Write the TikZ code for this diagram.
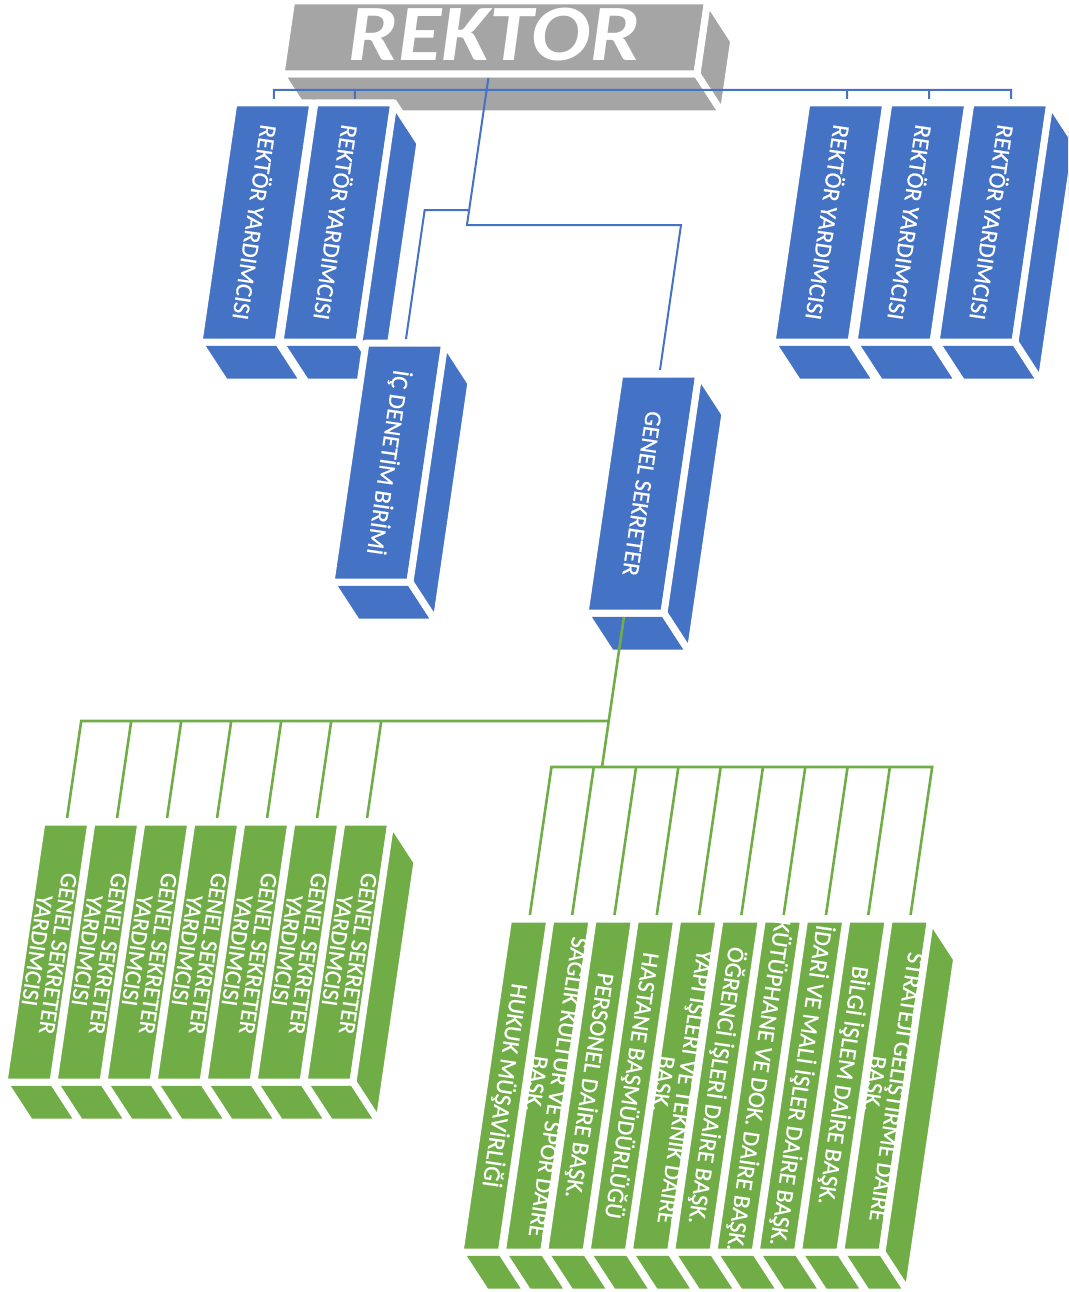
\documentclass[tikz,border=0pt]{standalone}
\usepackage{fontspec}
\setmainfont{Carlito}
\newfontfamily\kutufont{Carlito}[FakeBold=0.6]
\usepackage{tikz}
\usetikzlibrary{calc}
\definecolor{mavi}{HTML}{4472C4}
\definecolor{yesil}{HTML}{70AD47}
\definecolor{gri}{HTML}{A5A5A5}
\newcommand{\egim}{0.146}
\newcommand{\kutu}[6]{
    \coordinate (#1-bl) at ({#2}, {#3});
    \coordinate (#1-br) at ($(#1-bl) + ({#4}, 0)$);
    \coordinate (#1-tl) at ($(#1-bl) + ({\egim*#5}, {-#5})$);
    \coordinate (#1-tr) at ($(#1-tl) + ({#4}, 0)$);
    \filldraw[yuz, fill=#6] (#1-bl) -- (#1-br) -- ($(#1-br) + (26, 40)$) -- ($(#1-bl) + (26, 40)$) -- cycle;
    \filldraw[yuz, fill=#6] (#1-bl) -- (#1-br) -- (#1-tr) -- (#1-tl) -- cycle;
    \coordinate (#1-c) at ($(#1-bl)!0.5!(#1-tr)$);
    \coordinate (#1-t) at ($(#1-tl)!0.5!(#1-tr) + (0.6, -4)$);
    \coordinate (#1-b) at ($(#1-bl)!0.5!(#1-br) + (-0.6, 4)$);
}
\newcommand{\yan}[2]{
    \filldraw[yuz, fill=#2] (#1-br) -- (#1-tr) -- ($(#1-tr) + (26, 40)$) -- ($(#1-br) + (26, 40)$) -- cycle;
}
\newcommand{\yazi}[4]{
    \node[yazi, font=\kutufont\fontsize{#3}{#4}\selectfont] (#1-y) at (#1-c) {#2};
}
\tikzset{
    yuz/.style={draw=white, line width=7pt, line join=round},
    yazi/.style={text=white, rotate=-98.3, align=center, inner sep=0pt},
    mavicizgi/.style={draw=mavi, line width=2pt},
    yesilcizgi/.style={draw=yesil, line width=2.6pt}
}

\begin{document}
\begin{tikzpicture}[x=1pt, y=-1pt]
    \useasboundingbox (0, 0) rectangle (1068, 1292);
    \clip (0, 0) rectangle (1068, 1292);
    \kutu{rektor}{281}{74}{416}{73}{gri}
    \yan{rektor}{gri}
    \kutu{ry1}{199}{342}{79}{239}{mavi}
    \kutu{ry2}{280}{342}{79}{239}{mavi}
    \yan{ry2}{mavi}
    \kutu{ry3}{772}{342}{79}{239}{mavi}
    \kutu{ry4}{854}{342}{79}{239}{mavi}
    \kutu{ry5}{936}{342}{79}{239}{mavi}
    \yan{ry5}{mavi}
    \kutu{ic}{331}{582}{79}{239}{mavi}
    \yan{ic}{mavi}
    \kutu{gs}{585}{613}{79}{239}{mavi}
    \yan{gs}{mavi}
    \foreach \k in {1,...,7}
        \kutu{gsy\k}{4+50*(\k-1)}{1082}{49}{260}{yesil};
    \yan{gsy7}{yesil}
    \foreach \k in {1,...,10}
        \kutu{db\k}{460+42.3*(\k-1)}{1252}{41.3}{333}{yesil};
    \yan{db10}{yesil}
    \coordinate (ust) at (0, 90);
    \coordinate (dirsek1) at ($(rektor-b) + ({-\egim*147}, 147)$);
    \coordinate (dirsek2) at ($(gs-t) + ({\egim*144}, -144)$);
    \coordinate (dal) at ($(rektor-b) + ({-\egim*132}, 132)$);
    \coordinate (dirsek3) at ($(ic-t) + ({\egim*128}, -128)$);
    \coordinate (g1) at ($(gs-b) + ({-\egim*104}, 104)$);
    \coordinate (g2) at ($(gs-b) + ({-\egim*150}, 150)$);
    \draw[mavicizgi]
    (ry1-t) -- (ry1-t |- ust) -- (ry5-t |- ust) -- (ry5-t)
    (ry2-t) -- (ry2-t |- ust)
    (ry3-t) -- (ry3-t |- ust)
    (ry4-t) -- (ry4-t |- ust)
    (rektor-b) -- (dirsek1) -- (dirsek1 -| dirsek2) -- (gs-t)
    (dal) -- (dal -| dirsek3) -- (ic-t);
    \draw[yesilcizgi]
    (gs-b) -- (g2)
    (g1) -- ($(gsy1-t) + ({\egim*97}, -97)$) -- (gsy1-t)
    (db1-t) -- ++({\egim*148}, -148) -- ($(db10-t) + ({\egim*148}, -148)$) -- (db10-t);
    \foreach \k in {2,...,7}
        \draw[yesilcizgi] (gsy\k-t) -- ++({\egim*97}, -97);
    \foreach \k in {2,...,9}
        \draw[yesilcizgi] (db\k-t) -- ++({\egim*148}, -148);
    \node[text=white, xscale=1.1, inner sep=0pt, font=\fontsize{80}{80}\selectfont\bfseries\itshape] (rektor-y) at ($(rektor-c) + (0, -3)$) {REKTOR};
    \yazi{ry1}{REKTÖR YARDIMCISI}{24}{21}
    \yazi{ry2}{REKTÖR YARDIMCISI}{24}{21}
    \yazi{ry3}{REKTÖR YARDIMCISI}{24}{21}
    \yazi{ry4}{REKTÖR YARDIMCISI}{24}{21}
    \yazi{ry5}{REKTÖR YARDIMCISI}{24}{21}
    \yazi{ic}{İÇ DENETİM BİRİMİ}{24}{21}
    \yazi{gs}{GENEL SEKRETER}{24}{21}
    \foreach \k in {1,...,7}
        \yazi{gsy\k}{GENEL SEKRETER\\YARDIMCISI}{23.5}{21};
    \yazi{db1}{HUKUK MÜŞAVİRLİĞİ}{24}{22}
    \yazi{db2}{SAĞLIK KÜLTÜR VE SPOR DAİRE\\BAŞK.}{24}{22}
    \yazi{db3}{PERSONEL DAİRE BAŞK.}{24}{22}
    \yazi{db4}{HASTANE BAŞMÜDÜRLÜĞÜ}{24}{22}
    \yazi{db5}{YAPI İŞLERİ VE TEKNİK DAİRE\\BAŞK.}{24}{22}
    \yazi{db6}{ÖĞRENCİ İŞLERİ DAİRE BAŞK.}{24}{22}
    \yazi{db7}{KÜTÜPHANE VE DOK. DAİRE BAŞK.}{24}{22}
    \yazi{db8}{İDARİ VE MALİ İŞLER DAİRE BAŞK.}{24}{22}
    \yazi{db9}{BİLGİ İŞLEM DAİRE BAŞK.}{24}{22}
    \yazi{db10}{STRATEJİ GELİŞTİRME DAİRE\\BAŞK.}{24}{22}
\end{tikzpicture}
\end{document}
